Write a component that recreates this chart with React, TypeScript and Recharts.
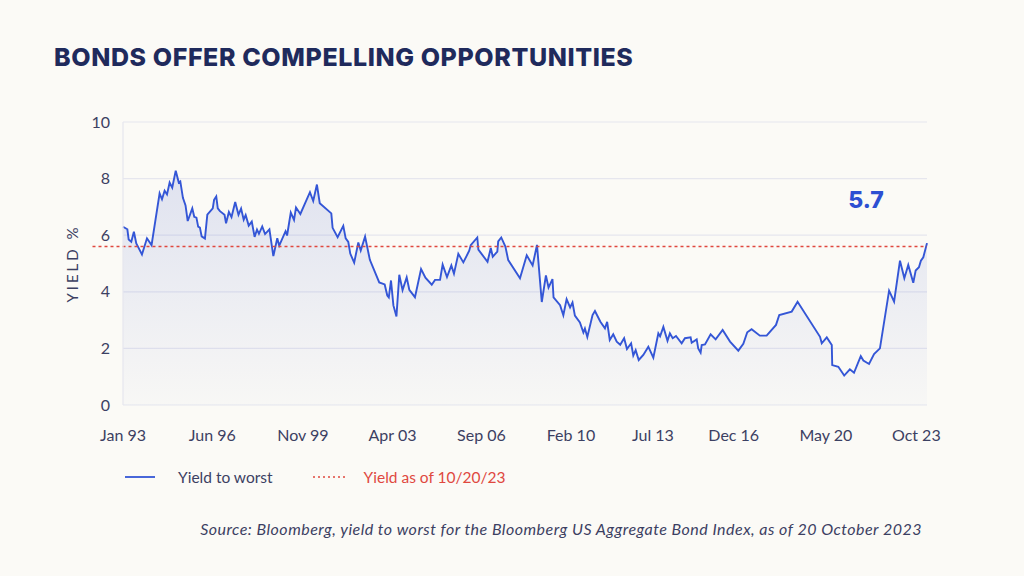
import {
  ComposedChart,
  Area,
  XAxis,
  YAxis,
  CartesianGrid,
  ReferenceLine,
  ReferenceDot,
} from "recharts";

// months since Jan 1993
const MONTHS = [
  0.0, 2.0, 2.6, 3.8, 5.0, 6.1, 8.7, 11.0, 13.1, 16.8,
  17.9, 19.1, 20.2, 21.4, 22.6, 24.2, 25.6, 26.3, 27.5, 28.7,
  29.7, 31.8, 32.7, 33.7, 34.5, 35.3, 36.1, 37.6, 38.7, 41.2,
  41.8, 42.8, 43.5, 44.5, 46.6, 47.3, 48.6, 49.8, 51.5, 53.0,
  54.2, 55.4, 56.3, 57.7, 59.1, 60.4, 61.5, 62.4, 63.9, 65.2,
  67.2, 69.0, 70.8, 71.7, 74.6, 75.3, 77.0, 78.5, 79.4, 81.4,
  85.8, 87.3, 89.0, 90.3, 95.6, 96.2, 98.5, 101.1, 102.2, 103.4,
  104.3, 106.1, 108.0, 109.1, 111.1, 113.3, 117.6, 120.1, 121.3, 122.0,
  123.0, 124.1, 125.5, 126.8, 128.3, 130.2, 131.4, 134.0, 136.8, 138.8,
  141.7, 143.2, 145.5, 146.7, 148.7, 150.7, 151.9, 153.9, 156.2, 158.9,
  159.6, 162.6, 163.1, 167.3, 168.8, 169.7, 171.8, 172.2, 173.6, 175.5,
  176.8, 182.2, 185.3, 188.0, 190.0, 192.2, 194.1, 195.3, 197.1, 197.6,
  200.6, 202.1, 203.6, 205.2, 206.3, 207.4, 209.7, 211.3, 212.0, 213.1,
  215.5, 216.6, 219.1, 221.2, 222.2, 223.4, 225.0, 226.6, 228.2, 230.0,
  231.3, 233.2, 234.2, 235.3, 236.7, 238.8, 241.1, 243.4, 245.7, 246.5,
  248.0, 249.9, 251.0, 252.3, 253.8, 256.4, 257.9, 260.5, 261.0, 263.3,
  264.0, 265.1, 265.6, 267.1, 269.7, 272.0, 275.2, 278.6, 282.4, 284.7,
  286.5, 288.5, 292.3, 295.4, 299.7, 301.2, 306.9, 309.6, 319.9, 320.7,
  323.0, 325.3, 325.5, 328.3, 331.0, 333.6, 335.5, 338.6, 339.8, 342.4,
  344.7, 347.4, 351.6, 353.9, 356.6, 358.6, 360.4, 362.7, 363.8, 365.3,
  366.2, 367.3, 369.0,
];

const YIELDS = [
  6.30, 6.21, 5.85, 5.77, 6.12, 5.71, 5.32, 5.89, 5.65, 7.48,
  7.27, 7.57, 7.44, 7.86, 7.68, 8.28, 7.86, 7.90, 7.32, 7.05,
  6.50, 6.95, 6.65, 6.62, 6.30, 6.27, 5.96, 5.88, 6.73, 6.95,
  7.25, 7.37, 6.95, 6.85, 6.72, 6.42, 6.82, 6.64, 7.17, 6.72,
  6.94, 6.55, 6.71, 6.34, 6.48, 5.94, 6.20, 6.05, 6.31, 6.04,
  6.21, 5.26, 5.89, 5.63, 6.14, 5.99, 6.80, 6.54, 6.98, 6.75,
  7.52, 7.21, 7.79, 7.13, 6.77, 6.26, 5.93, 6.33, 5.89, 5.76,
  5.35, 5.03, 5.74, 5.46, 5.95, 5.13, 4.33, 4.26, 3.87, 3.80,
  4.40, 3.52, 3.13, 4.60, 4.06, 4.51, 4.07, 3.81, 4.80, 4.50,
  4.25, 4.42, 4.42, 4.96, 4.52, 4.93, 4.64, 5.34, 5.04, 5.45,
  5.65, 5.92, 5.49, 5.06, 5.55, 5.24, 5.42, 5.78, 5.92, 5.60,
  5.12, 4.48, 5.29, 4.93, 5.66, 3.64, 4.58, 4.15, 4.45, 3.80,
  3.53, 3.17, 3.74, 3.45, 3.62, 3.16, 2.92, 2.56, 2.70, 2.40,
  3.18, 3.32, 2.94, 2.71, 2.94, 2.30, 2.50, 2.24, 2.13, 2.36,
  1.98, 2.18, 1.75, 1.94, 1.59, 1.77, 2.06, 1.67, 2.53, 2.43,
  2.76, 2.27, 2.53, 2.36, 2.44, 2.18, 2.36, 2.39, 2.20, 2.32,
  2.00, 1.85, 2.12, 2.14, 2.50, 2.32, 2.65, 2.24, 1.92, 2.16,
  2.57, 2.68, 2.45, 2.45, 2.83, 3.18, 3.30, 3.65, 2.41, 2.18,
  2.39, 2.12, 1.41, 1.35, 1.04, 1.26, 1.14, 1.73, 1.57, 1.45,
  1.80, 2.00, 4.04, 3.65, 5.10, 4.48, 4.95, 4.32, 4.75, 4.87,
  5.10, 5.22, 5.72,
];

// where the date labels sit along the axis (months since Jan 1993)
const TICK_POSITIONS = [0, 41, 82.6, 123.7, 164.5, 205.6, 243.2, 280.3, 322.6, 364.1];
const TICK_LABELS = [
  "Jan 93", "Jun 96", "Nov 99", "Apr 03", "Sep 06",
  "Feb 10", "Jul 13", "Dec 16", "May 20", "Oct 23",
];
const Y_TICKS = [0, 2, 4, 6, 8, 10];
const CURRENT_YIELD = 5.6;
const CURRENT_LABEL = "5.7";

const data = MONTHS.map((m, i) => ({ month: m, yield: YIELDS[i] }));

const BLUE = "#3456d6";
const RED = "#e0483f";
const TEXT = "#3c4062";
const GRID = "#e6e6ee";
const FONT = "Lato, 'Open Sans', sans-serif";

const App = () => {
  return (
    <div
      style={{
        position: "absolute",
        left: 0,
        top: 0,
        width: 1024,
        height: 576,
        background: "#fbfaf6",
        fontFamily: FONT,
        overflow: "hidden",
      }}
    >
      <div
        style={{
          position: "absolute",
          left: 54,
          top: 45,
          fontFamily: "Inter, sans-serif",
          fontWeight: 800,
          fontSize: 25,
          lineHeight: "24px",
          color: "#1f2a5c",
          letterSpacing: 0.6,
          whiteSpace: "nowrap",
        }}
      >
        BONDS OFFER COMPELLING OPPORTUNITIES
      </div>

      <div style={{ position: "absolute", left: 0, top: 0 }}>
        <ComposedChart
          width={1024}
          height={460}
          data={data}
          margin={{ top: 122, right: 97, bottom: 25, left: 63 }}
        >
          <defs>
            <linearGradient id="yieldFill" x1="0" y1="0" x2="0" y2="1">
              <stop offset="0%" stopColor="#3a55c8" stopOpacity={0.24} />
              <stop offset="100%" stopColor="#3a55c8" stopOpacity={0.03} />
            </linearGradient>
          </defs>
          <CartesianGrid vertical={false} stroke={GRID} strokeWidth={1.2} />
          <XAxis
            dataKey="month"
            type="number"
            domain={[0, 369]}
            ticks={TICK_POSITIONS}
            tickFormatter={(v: number) => TICK_LABELS[TICK_POSITIONS.indexOf(v)]}
            axisLine={false}
            tickLine={false}
            tickSize={0}
            tickMargin={25}
            height={30}
            interval={0}
            tick={{ fontSize: 16, fill: TEXT, fontFamily: FONT }}
          />
          <YAxis
            domain={[0, 10]}
            ticks={Y_TICKS}
            width={60}
            axisLine={{ stroke: GRID, strokeWidth: 1.2 }}
            tickLine={false}
            tickSize={0}
            tickMargin={13}
            tick={{ fontSize: 16, fill: TEXT, fontFamily: FONT }}
            label={{
              value: "YIELD %",
              angle: -90,
              position: "insideLeft",
              offset: 10,
              style: {
                textAnchor: "middle",
                fontSize: 15,
                fill: TEXT,
                letterSpacing: 3,
                fontFamily: FONT,
              },
            }}
          />
          <Area
            type="linear"
            dataKey="yield"
            stroke={BLUE}
            strokeWidth={1.9}
            fill="url(#yieldFill)"
            dot={false}
            activeDot={false}
            isAnimationActive={false}
          />
          <ReferenceLine
            segment={[
              { x: -14, y: CURRENT_YIELD },
              { x: 369, y: CURRENT_YIELD },
            ]}
            ifOverflow="visible"
            stroke={RED}
            strokeWidth={1.5}
            strokeDasharray="3 3"
          />
          <ReferenceDot
            x={341}
            y={7.24}
            r={0}
            fill="none"
            stroke="none"
            ifOverflow="visible"
            label={{
              value: CURRENT_LABEL,
              position: "center",
              fill: "#2d4fd2",
              fontSize: 23,
              fontWeight: 800,
              fontFamily: "Inter, sans-serif",
            }}
          />
        </ComposedChart>
      </div>

      {/* legend */}
      <div
        style={{
          position: "absolute",
          left: 125,
          top: 468,
          display: "flex",
          alignItems: "center",
          fontSize: 15.5,
          lineHeight: "18px",
          whiteSpace: "nowrap",
        }}
      >
        <svg width={30} height={4} style={{ display: "block" }}>
          <line x1={0} y1={2} x2={30} y2={2} stroke={BLUE} strokeWidth={1.8} />
        </svg>
        <span style={{ marginLeft: 23, color: TEXT }}>Yield to worst</span>
        <svg width={32} height={4} style={{ display: "block", marginLeft: 40 }}>
          <line
            x1={0}
            y1={2}
            x2={32}
            y2={2}
            stroke={RED}
            strokeWidth={1.5}
            strokeDasharray="2 3"
          />
        </svg>
        <span style={{ marginLeft: 19, color: RED }}>Yield as of 10/20/23</span>
      </div>

      <div
        style={{
          position: "absolute",
          right: 102,
          top: 519,
          fontSize: 16,
          lineHeight: "20px",
          fontStyle: "italic",
          color: TEXT,
          letterSpacing: 0.48,
          whiteSpace: "nowrap",
        }}
      >
        Source: Bloomberg, yield to worst for the Bloomberg US Aggregate Bond Index, as of 20 October 2023
      </div>
    </div>
  );
};

export default App;
